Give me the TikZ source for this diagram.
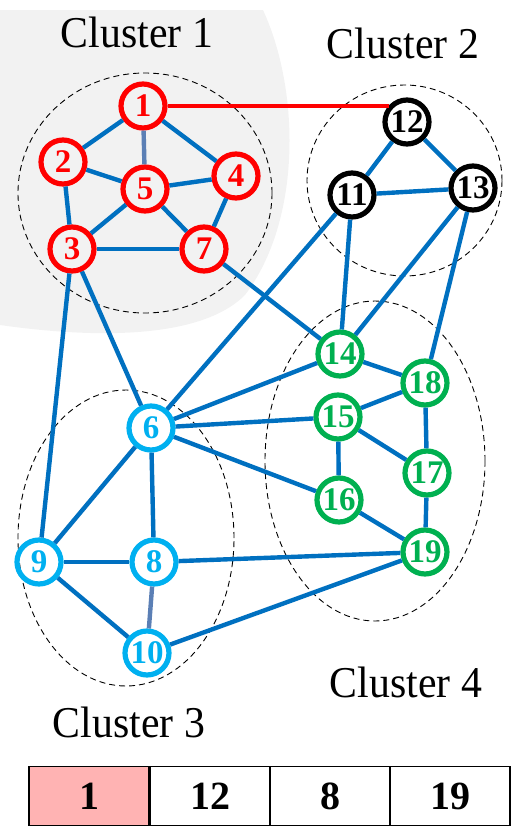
\documentclass[tikz,border=0pt]{standalone}
\usepackage{fontspec}
\usetikzlibrary{calc}
\setmainfont{Liberation Serif}
\newfontfamily\clfont[FakeStretch=0.95]{Liberation Serif}
\definecolor{edgeblue}{HTML}{0070C0}
\definecolor{softblue}{HTML}{5B7FB5}
\definecolor{bggray}{HTML}{F2F2F2}
\definecolor{cred}{HTML}{FF0000}
\definecolor{ccyan}{HTML}{00B0F0}
\definecolor{cgreen}{HTML}{00B050}
\definecolor{pinkcell}{HTML}{FFB3B3}
\tikzset{
  vtx/.style={circle, draw, line width=5.2pt, minimum size=44pt, inner sep=0pt,
    font=\bfseries\fontsize{33}{33}\selectfont},
  rv/.style={vtx, draw=cred, text=cred},
  kv/.style={vtx, draw=black, text=black},
  cv/.style={vtx, draw=ccyan, text=ccyan},
  gv/.style={vtx, draw=cgreen, text=cgreen},
  lnk/.style={draw=edgeblue, line width=4.4pt},
  softlnk/.style={draw=softblue, line width=4.4pt},
  clus/.style={draw=black, line width=0.9pt, dash pattern=on 6pt off 4pt},
  clabel/.style={anchor=base, inner sep=0pt, font=\clfont\fontsize{44}{44}\selectfont},
  cell/.style={draw=black, line width=1.8pt, minimum width=120pt, minimum height=59pt,
    inner sep=0pt, font=\bfseries\fontsize{40}{40}\selectfont}
}
\begin{document}
\begin{tikzpicture}[x=1pt,y=-1pt]
\useasboundingbox (0,0) rectangle (515,828);
% gray background
\fill[bggray] (0,10) -- (263,10) .. controls (300,90) and (302,220) .. (245,295)
  .. controls (195,345) and (70,335) .. (0,325) -- cycle;
% cluster ellipses
\draw[clus] (145,193) ellipse [x radius=127pt, y radius=120pt];
\draw[clus] (404.5,180.5) ellipse [x radius=97.5pt, y radius=95.5pt];
\draw[clus] (126,538) ellipse [x radius=108pt, y radius=148pt];
\draw[clus] (375,461) ellipse [x radius=110pt, y radius=160pt];
% nodes
\node[rv] (n1) at (143,106) {1};
\node[rv] (n2) at (63,162) {2};
\node[rv] (n4) at (236,176) {4};
\node[rv] (n5) at (145,189) {5};
\node[rv] (n3) at (72,249) {3};
\node[rv] (n7) at (204,249) {7};
\node[kv] (n12) at (407,122) {12};
\node[kv] (n11) at (352,195) {11};
\node[kv] (n13) at (473,188) {13};
\node[cv] (n6) at (151,428) {6};
\node[cv] (n9) at (39,562) {9};
\node[cv] (n8) at (154,562) {8};
\node[cv] (n10) at (147,653) {10};
\node[gv] (n14) at (340,354) {14};
\node[gv] (n18) at (425,383) {18};
\node[gv] (n15) at (338,417) {15};
\node[gv] (n17) at (427,473) {17};
\node[gv] (n16) at (339,500) {16};
\node[gv] (n19) at (425,552) {19};
% edges
\draw[lnk] (n1) -- (n2);
\draw[softlnk] (n1) -- (n5);
\draw[lnk] (n1) -- (n4);
\draw[lnk] (n2) -- (n5);
\draw[lnk] (n2) -- (n3);
\draw[lnk] (n5) -- (n4);
\draw[lnk] (n5) -- (n3);
\draw[lnk] (n5) -- (n7);
\draw[lnk] (n4) -- (n7);
\draw[lnk] (n3) -- (n7);
\draw[lnk] (n3) -- (n9);
\draw[lnk] (n3) -- (n6);
\draw[lnk] (n7) -- (n14);
\draw[lnk] (n11) -- (n6);
\draw[lnk] (n12) -- (n11);
\draw[lnk] (n12) -- (n13);
\draw[lnk] (n11) -- (n13);
\draw[lnk] (n11) -- (n14);
\draw[lnk] (n13) -- (n14);
\draw[lnk] (n13) -- (n18);
\draw[lnk] (n14) -- (n6);
\draw[lnk] (n14) -- (n18);
\draw[lnk] (n15) -- (n6);
\draw[lnk] (n15) -- (n18);
\draw[lnk] (n15) -- (n16);
\draw[lnk] (n15) -- (n17);
\draw[lnk] (n18) -- (n17);
\draw[lnk] (n17) -- (n19);
\draw[lnk] (n16) -- (n19);
\draw[lnk] (n16) -- (n6);
\draw[lnk] (n6) -- (n9);
\draw[lnk] (n6) -- (n8);
\draw[lnk] (n9) -- (n8);
\draw[lnk] (n8) -- (n19);
\draw[lnk] (n9) -- (n10);
\draw[softlnk] (n8) -- (n10);
\draw[lnk] (n10) -- (n19);
\coordinate (redend) at ($(n1.east -| n12.west)+(7,0)$);
\draw[draw=cred, line width=4.2pt] (n1.east) -- (redend);
% cluster labels
\node[clabel] (c1) at (137,47) {Cluster 1};
\node[clabel] (c2) at (403,58) {Cluster 2};
\node[clabel] (c4) at (406,697) {Cluster 4};
\node[clabel] (c3) at (129,737) {Cluster 3};
% table
\node[cell, fill=pinkcell] (t1) at (89,796) {1};
\node[cell] (t2) at (210,796) {12};
\node[cell] (t3) at (330,796) {8};
\node[cell] (t4) at (450,796) {19};
\end{tikzpicture}
\end{document}
